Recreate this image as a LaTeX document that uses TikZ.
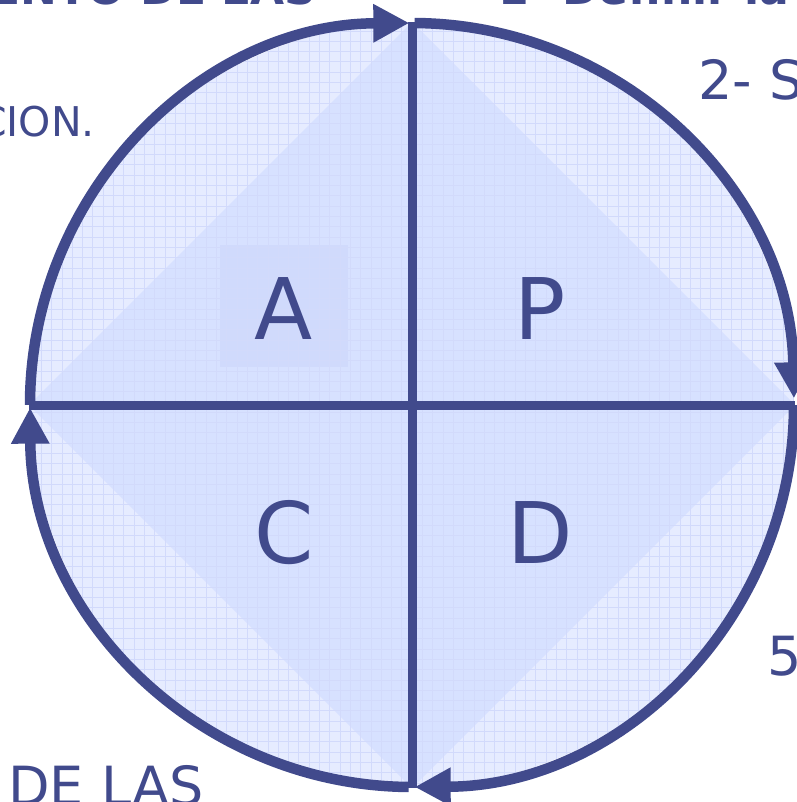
\documentclass[tikz,border=0pt]{standalone}
\usepackage{fontspec}
\setmainfont{DejaVu Sans}
\usetikzlibrary{arrows.meta}
\definecolor{ink}{HTML}{414A8C}
\definecolor{disc}{HTML}{E6ECFF}
\definecolor{diam}{HTML}{D7E1FF}
\definecolor{gridc}{HTML}{D2DAFB}
\definecolor{boxc}{HTML}{D0DAFC}
\tikzset{
  rim/.style={line width=10.5pt, draw=ink, -{Triangle[length=36pt,width=36pt]}},
  axis/.style={line width=9pt, draw=ink},
  letter/.style={text=ink, font=\fontsize{85}{90}\selectfont, anchor=base, inner sep=0pt},
  side/.style={text=ink, inner sep=0pt},
}
\begin{document}
\begin{tikzpicture}[x=1pt,y=-1pt]
\useasboundingbox (0,0) rectangle (796,802);
\coordinate (O) at (412,405);
\def\R{382}
\coordinate (T) at (412,22);
\coordinate (B) at (412,788);
\coordinate (L) at (29,405);
\coordinate (Rt) at (795,405);
% disc and diamond
\fill[disc] (O) circle[radius=\R];
\fill[diam] (T) -- (Rt) -- (B) -- (L) -- cycle;
\fill[boxc] (220,245) rectangle (348,367);
\begin{scope}
  \clip (O) circle[radius=\R];
  \draw[gridc, line width=0.6pt, step=10.3pt] (0,0) grid (800,800);
\end{scope}
% axes
\draw[axis] (T) -- (B);
\draw[axis] (L) -- (Rt);
% rim arcs with arrows (clockwise on the page)
\draw[rim] (O) ++(180:\R) arc[start angle=180, end angle=269.6, radius=\R];
\draw[rim] (O) ++(270.4:\R) arc[start angle=270.4, end angle=359, radius=\R];
\draw[rim] (O) ++(0:\R) arc[start angle=0, end angle=89.6, radius=\R];
\draw[rim] (O) ++(90.5:\R) arc[start angle=90.5, end angle=179.6, radius=\R];
% letters
\node[letter] (nA) at (284,339) {A};
\node[letter] (nP) at (540,339) {P};
\node[letter] (nC) at (284,563) {C};
\node[letter] (nD) at (540,563) {D};
% cut-off side texts
\node[side, font=\fontsize{41}{45}\selectfont, anchor=base east] (t1) at (95,137) {CION.};
\node[side, font=\fontsize{54}{58}\selectfont, anchor=base west] (t2) at (698,100) {2- Se};
\node[side, font=\fontsize{54}{58}\selectfont, anchor=base west] (t3) at (767,675) {5};
\node[side, font=\fontsize{54}{58}\selectfont, anchor=base west] (t4) at (8,805) {DE LAS};
\node[side, font=\bfseries\fontsize{44}{48}\selectfont, anchor=base east] (t5) at (316,5) {ENTO DE LAS};
\node[side, font=\bfseries\fontsize{44}{48}\selectfont, anchor=base west] (t6) at (498,5) {1- Definir la};
\end{tikzpicture}
\end{document}
